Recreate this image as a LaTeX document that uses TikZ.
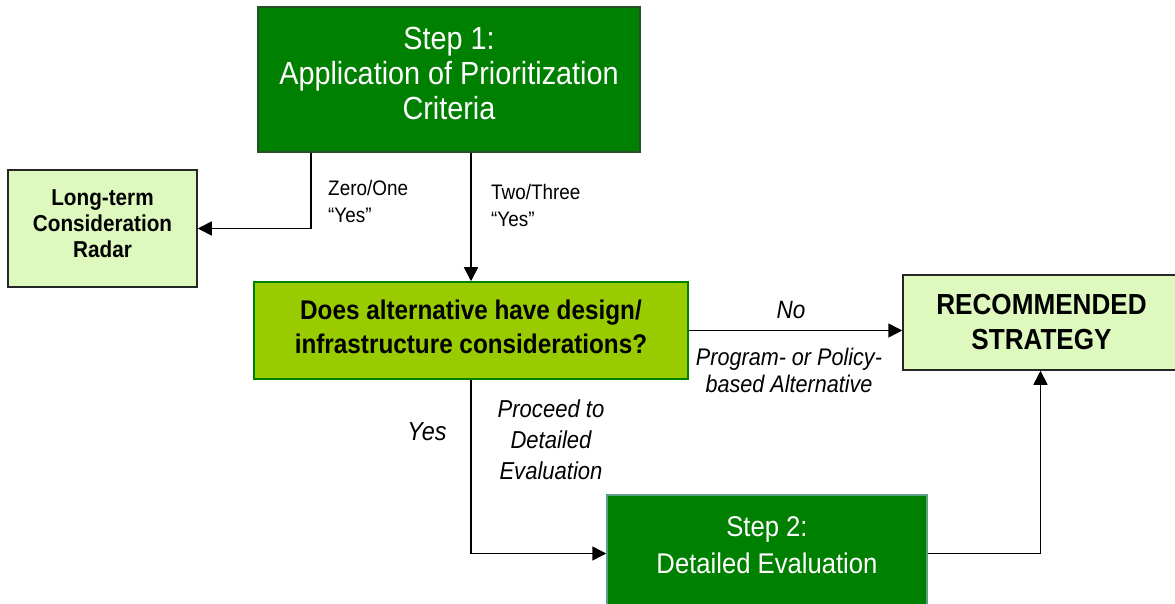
\documentclass[tikz,border=0pt]{standalone}
\usepackage{fontspec}
\setmainfont{Liberation Sans}[FakeStretch=0.9]
\usetikzlibrary{arrows.meta}
\newcommand\fsz[2]{\fontsize{#1bp}{#2bp}\selectfont}
\definecolor{dkgreen}{RGB}{0,128,0}
\definecolor{dkborder}{RGB}{40,80,40}
\definecolor{tealborder}{RGB}{90,160,130}
\definecolor{lime}{RGB}{153,204,0}
\definecolor{pale}{RGB}{221,249,190}
\tikzset{
  stepbox/.style={draw=dkborder, line width=1.5bp, fill=dkgreen, inner sep=0pt},
  palebox/.style={draw=black!85, line width=1.5bp, fill=pale, inner sep=0pt},
  qbox/.style={draw=dkgreen, line width=1.5bp, fill=lime, inner sep=0pt},
  boxtext/.style={inner sep=0pt, align=center},
  arr/.style={line width=1.6bp, -{Triangle[length=14bp,width=14bp]}},
  lbl/.style={inner sep=0pt, align=left},
  ilbl/.style={inner sep=0pt, align=center},
}
\begin{document}
\begin{tikzpicture}[x=1bp,y=-1bp]
\useasboundingbox (0,0) rectangle (1175,604);
\begin{scope}
\clip (0,0) rectangle (1175,604);
\node[stepbox, minimum width=382bp, minimum height=145bp] (s1) at (449,79.5) {};
\node[boxtext, text=white, font=\fsz{32}{35}] (s1t) at (449,73.5) {Step 1:\\Application of Prioritization\\Criteria};
\node[palebox, minimum width=189bp, minimum height=117bp] (lt) at (102.5,228.5) {};
\node[boxtext, font=\bfseries\fsz{23}{26}] (ltt) at (102.5,224) {Long-term\\Consideration\\Radar};
\node[qbox, minimum width=434bp, minimum height=97bp] (dq) at (471,330.5) {};
\node[boxtext, font=\bfseries\fsz{27}{34}] (dqt) at (471,326.5) {Does alternative have design/\\infrastructure considerations?};
\node[palebox, minimum width=275bp, minimum height=95bp] (rec) at (1040.5,322.5) {};
\node[boxtext, font=\bfseries\fsz{29}{35}] (rect) at (1041.5,322.5) {RECOMMENDED\\STRATEGY};
\node[stepbox, draw=tealborder, minimum width=320bp, minimum height=117bp] (s2) at (767,553.5) {};
\node[boxtext, text=white, font=\fsz{28.5}{37}] (s2t) at (767,545) {Step 2:\\Detailed Evaluation};

\draw[arr] ([xshift=54bp]s1.south west) |- (lt.east);
\draw[arr] (s1.south -| dq.north) -- (dq.north);
\draw[arr] (dq.east) -- (dq.east -| rec.west);
\draw[arr] (dq.south) |- (s2.west);
\draw[arr] (s2.east) -| (rec.south);

\node[lbl, anchor=west, font=\fsz{21}{27}] (l0) at (328,201) {Zero/One\\“Yes”};
\node[lbl, anchor=west, font=\fsz{21}{27}] (l2) at (491,205) {Two/Three\\“Yes”};
\node[ilbl, font=\itshape\fsz{25}{28}] (lno) at (791,310) {No};
\node[ilbl, font=\itshape\fsz{24}{27}] (lpp) at (789,370) {Program- or Policy-\\based Alternative};
\node[ilbl, font=\itshape\fsz{26}{30}] (lyes) at (427,432) {Yes};
\node[ilbl, font=\itshape\fsz{24.5}{31}] (lpr) at (551,440) {Proceed to\\Detailed\\Evaluation};
\end{scope}
\end{tikzpicture}
\end{document}
